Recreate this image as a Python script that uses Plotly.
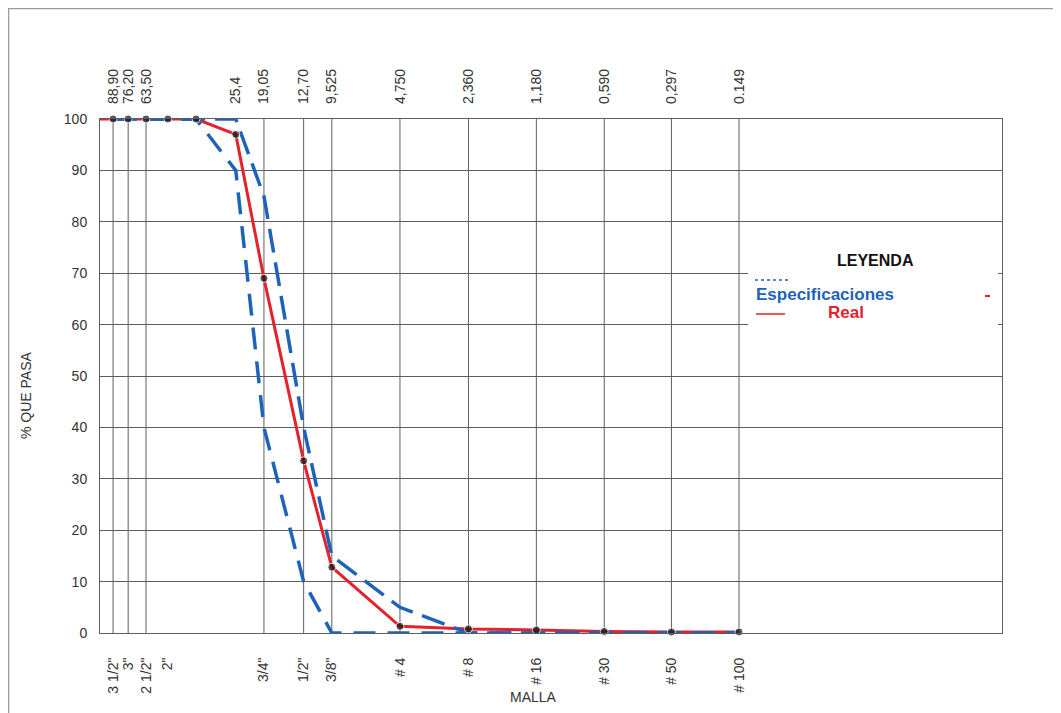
import plotly.graph_objects as go
import math

# ---------------- data ----------------
sieve_mm = [101.6, 88.9, 76.2, 63.5, 50.8, 38.1, 25.4, 19.05, 12.7, 9.525,
            4.75, 2.36, 1.18, 0.59, 0.297, 0.149]
real_pass = [100, 100, 100, 100, 100, 100, 97, 69, 33.5, 12.8,
             1.3, 0.8, 0.6, 0.3, 0.2, 0.2]

spec_mm = [88.9, 76.2, 63.5, 50.8, 38.1, 25.4, 19.05, 12.7, 9.525,
           4.75, 2.36, 1.18, 0.59, 0.297, 0.149]
spec_lower = [100, 100, 100, 100, 100, 90, 40, 10, 0, 0, 0, 0, 0, 0, 0]
spec_upper = [100, 100, 100, 100, 100, 100, 85, 40, 15, 5, 0, 0, 0, 0, 0]

grid_mm = [88.9, 76.2, 63.5, 19.05, 12.7, 9.525, 4.75, 2.36, 1.18, 0.59, 0.297, 0.149]

top_tick_vals = [88.9, 76.2, 63.5, 25.4, 19.05, 12.7, 9.525, 4.75, 2.36, 1.18, 0.59, 0.297, 0.149]
top_tick_text = ["88,90", "76,20", "63,50", "25,4", "19,05", "12,70", "9,525",
                 "4,750", "2,360", "1,180", "0,590", "0,297", "0.149"]

bot_tick_vals = [88.9, 76.2, 63.5, 50.8, 19.05, 12.7, 9.525, 4.75, 2.36, 1.18, 0.59, 0.297, 0.149]
bot_tick_text = ['3 1/2"', '3"', '2 1/2"', '2"', '3/4"', '1/2"', '3/8"',
                 '# 4', '# 8', '# 16', '# 30', '# 50', '# 100']

x_range_mm = (101.6, 0.01016)
y_ticks = list(range(0, 101, 10))

# ---------------- styles ----------------
FONT = "Arial, 'Liberation Sans', sans-serif"
GRID = "#5e5e5e"
BLUE = "#1f63b8"
RED = "#e3222c"

xr = [math.log10(x_range_mm[0]), math.log10(x_range_mm[1])]

fig = go.Figure()

# vertical grid lines
gx, gy = [], []
for g in grid_mm:
    gx += [g, g, None]
    gy += [0, 100, None]
fig.add_trace(go.Scatter(x=gx, y=gy, mode="lines", line=dict(color=GRID, width=1),
                         hoverinfo="skip", showlegend=False))

# real curve (line)
fig.add_trace(go.Scatter(x=sieve_mm, y=real_pass, mode="lines",
                         line=dict(color=RED, width=3), showlegend=False,
                         cliponaxis=False))

# specification limits
fig.add_trace(go.Scatter(x=spec_mm, y=spec_lower, mode="lines",
                         line=dict(color=BLUE, width=3.5, dash="22px,12px"),
                         showlegend=False, cliponaxis=False))
fig.add_trace(go.Scatter(x=spec_mm, y=spec_upper, mode="lines",
                         line=dict(color=BLUE, width=3.5, dash="24px,10px"),
                         showlegend=False, cliponaxis=False))

# real curve markers
msize = [0] + [8] * (len(sieve_mm) - 1)
fig.add_trace(go.Scatter(x=sieve_mm, y=real_pass, mode="markers",
                         marker=dict(color="#111111", size=msize),
                         showlegend=False, cliponaxis=False))

# invisible trace to anchor top axis
fig.add_trace(go.Scatter(x=top_tick_vals, y=[50] * len(top_tick_vals), xaxis="x2",
                         mode="markers", marker=dict(opacity=0), hoverinfo="skip",
                         showlegend=False))

tickfont = dict(family=FONT, size=14, color="#333333")

# page has an 8px body margin, so the figure is 8px smaller on each axis
fig.update_layout(
    width=1053, height=705,
    margin=dict(l=92, r=59, t=111, b=80),
    paper_bgcolor="white", plot_bgcolor="white",
    showlegend=False,
    xaxis=dict(type="log", range=xr, tickmode="array", tickvals=bot_tick_vals,
               ticktext=bot_tick_text, tickangle=-90, tickfont=tickfont,
               showgrid=False, zeroline=False, showline=True, mirror=True,
               linecolor=GRID, linewidth=1, ticks="", ticklabelstandoff=18),
    xaxis2=dict(type="log", range=xr, overlaying="x", side="top", tickmode="array",
                tickvals=top_tick_vals, ticktext=top_tick_text, tickangle=-90,
                tickfont=tickfont, showgrid=False, zeroline=False, showline=False,
                ticks="", ticklabelstandoff=14),
    yaxis=dict(range=[0, 100], tickmode="array", tickvals=y_ticks, tickfont=tickfont,
               showgrid=True, gridcolor=GRID, gridwidth=1, zeroline=False,
               showline=True, mirror=True, linecolor=GRID, linewidth=1,
               ticks="", ticklabelstandoff=9),
)

def px_x(p):
    return (p - 100) / 902.0

def px_y(p):
    return (633 - p) / 514.0

shapes = [
    # outer frame
    dict(type="rect", xref="paper", yref="paper", x0=px_x(8.5), x1=px_x(1057),
         y0=px_y(760), y1=px_y(8.5), line=dict(color="#9a9a9a", width=1.5),
         fillcolor="rgba(0,0,0,0)", layer="below"),
    # legend white box
    dict(type="rect", xref="paper", yref="paper", x0=px_x(748), x1=px_x(998),
         y0=px_y(362), y1=px_y(236), line=dict(width=0), fillcolor="white",
         layer="above"),
    # legend sample lines
    dict(type="line", xref="paper", yref="paper", x0=px_x(755), x1=px_x(790),
         y0=px_y(280), y1=px_y(280), line=dict(color=BLUE, width=1.5, dash="dot"),
         layer="above"),
    dict(type="line", xref="paper", yref="paper", x0=px_x(756), x1=px_x(785),
         y0=px_y(314), y1=px_y(314), line=dict(color=RED, width=1.5), layer="above"),
    dict(type="line", xref="paper", yref="paper", x0=px_x(985), x1=px_x(990),
         y0=px_y(296), y1=px_y(296), line=dict(color=RED, width=2), layer="above"),
]
fig.update_layout(shapes=shapes)

annotations = [
    dict(text="<b>LEYENDA</b>", x=px_x(875), y=px_y(260), xref="paper", yref="paper",
         showarrow=False, font=dict(family=FONT, size=16, color="#111111"),
         xanchor="center", yanchor="middle"),
    dict(text="<b>Especificaciones</b>", x=px_x(825), y=px_y(294), xref="paper", yref="paper",
         showarrow=False, font=dict(family=FONT, size=17, color=BLUE),
         xanchor="center", yanchor="middle"),
    dict(text="<b>Real</b>", x=px_x(846), y=px_y(312), xref="paper", yref="paper",
         showarrow=False, font=dict(family=FONT, size=17, color=RED),
         xanchor="center", yanchor="middle"),
    dict(text="% QUE PASA", x=px_x(26), y=px_y(395), xref="paper", yref="paper",
         showarrow=False, textangle=-90, font=dict(family=FONT, size=14, color="#333333"),
         xanchor="center", yanchor="middle"),
    dict(text="MALLA", x=px_x(533), y=px_y(697), xref="paper", yref="paper",
         showarrow=False, font=dict(family=FONT, size=14, color="#333333"),
         xanchor="center", yanchor="middle"),
]
fig.update_layout(annotations=annotations)

fig.write_html("out.html")
